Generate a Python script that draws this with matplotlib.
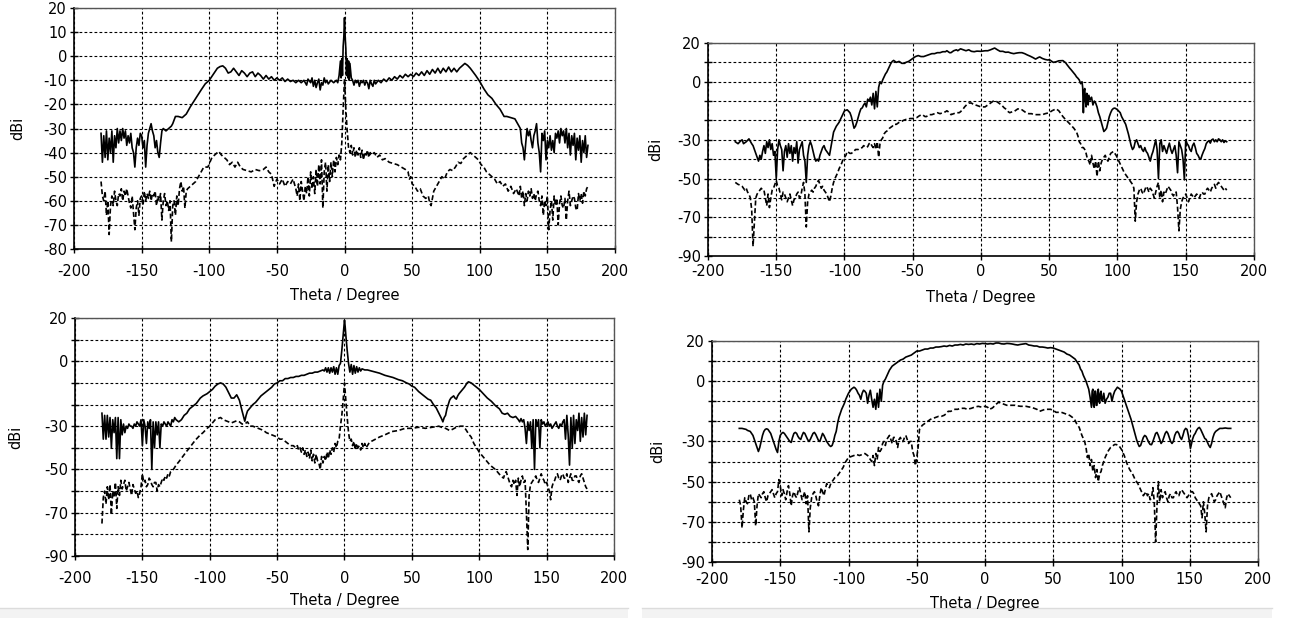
import matplotlib
matplotlib.use('Agg')
import matplotlib.pyplot as plt
from matplotlib.patches import Rectangle
import numpy as np

plt.rcParams['font.family'] = ['DejaVu Sans']

# --- top-left panel: (theta, dBi)
tl_solid = [(-180,-32),(-179,-44),(-178,-33),(-177,-42),(-176,-31),(-175,-43),(-174,-34),(-173,-40),(-172,-31),(-171,-44),(-170,-33),(-169,-38),(-168,-30),(-167,-36),(-166,-31),(-165,-35),(-164,-30),(-163,-34),(-162,-31),(-161,-37),(-160,-33),(-159,-36),(-158,-32),(-157,-38),(-156,-40),(-155,-46),(-154,-38),(-153,-34),(-152,-37),(-151,-32),(-150,-33),(-149,-38),(-148,-35),(-147,-46),(-146,-37),(-145,-32),(-144,-30),(-143,-28),(-142,-31),(-141,-33),(-140,-38),(-139,-35),(-138,-40),(-137,-42),(-136,-36),(-135,-31),(-134,-30),(-132,-31),(-130,-30),(-128,-29),(-127,-28),(-125,-25),(-123,-25),(-120,-25.5),(-117,-24),(-114,-21),(-110,-17.5),(-106,-14),(-103,-11.5),(-100,-10),(-97,-7.5),(-94,-5),(-92,-4.3),(-90,-4),(-88,-5),(-86,-7),(-84,-6.5),(-82,-5),(-80,-6.5),(-78,-8),(-76,-6),(-74,-7),(-72,-8.5),(-70,-7),(-68,-6.5),(-66,-8.5),(-64,-7),(-62,-8),(-60,-9.5),(-58,-8),(-56,-9.5),(-54,-8.5),(-52,-10),(-50,-9),(-48,-10),(-46,-9),(-44,-10.5),(-42,-9.5),(-40,-10.5),(-38,-10),(-36,-11),(-34,-10),(-32,-11),(-30,-10),(-28,-12),(-27,-9.5),(-25,-11),(-24,-9),(-23,-12.5),(-22,-10),(-21,-13),(-20,-11),(-19,-9.5),(-18,-14),(-17,-11),(-16,-12),(-15,-9),(-14,-11),(-13,-10),(-12,-11.5),(-10,-10),(-8,-11),(-6,-10),(-5,-11),(-4,-8),(-3,-2),(-2.5,-9),(-2,-1),(-1.5,-8),(-1,4),(-0.5,8),(0,16),(0.5,8),(1,3),(1.5,-8),(2,-1),(2.5,-9),(3,-2),(3.5,-10),(4,-3),(5,-9),(6,-10),(7,-12),(8,-10),(9,-11),(10,-10),(11,-12.5),(12,-10.5),(13,-11),(14,-10),(15,-12),(16,-10.5),(17,-11),(18,-13.5),(19,-10),(20,-11.5),(21,-12.5),(22,-10),(23,-11.5),(25,-10),(27,-11),(29,-9.5),(31,-10.5),(33,-9),(35,-10),(37,-8.5),(39,-9.5),(41,-8),(43,-9),(45,-7.5),(47,-8.5),(49,-7.5),(51,-8.5),(53,-7),(55,-8),(57,-6.5),(59,-8),(61,-6),(63,-7.5),(65,-5.5),(67,-7),(69,-5),(71,-7),(73,-5),(75,-6.5),(77,-4.5),(79,-6.5),(81,-5),(83,-6.5),(85,-5),(87,-4),(89,-3),(91,-3.8),(93,-5),(95,-6.5),(97,-8),(100,-10.5),(103,-13.5),(106,-16),(109,-17.5),(112,-20),(115,-22),(118,-25),(120,-25),(123,-25.5),(126,-26),(128,-28),(130,-30),(131,-36),(132,-38),(133,-43),(134,-36),(135,-30),(136,-33),(137,-31),(138,-35),(139,-38),(140,-33),(141,-31),(142,-28),(143,-36),(144,-40),(145,-48),(146,-32),(147,-35),(148,-31),(149,-43),(150,-35),(151,-38),(152,-33),(153,-39),(154,-35),(155,-40),(156,-32),(157,-34),(158,-31),(159,-36),(160,-30),(161,-33),(162,-31),(163,-36),(164,-30),(165,-38),(166,-32),(167,-41),(168,-33),(169,-37),(170,-32),(171,-43),(172,-34),(173,-39),(174,-33),(175,-44),(176,-35),(177,-40),(178,-33),(179,-42),(180,-37)]
tl_dash = [(-180,-52),(-179,-58),(-178,-60),(-177,-56),(-176,-66),(-175,-60),(-174,-74),(-173,-62),(-172,-58),(-171,-62),(-170,-56),(-169,-60),(-168,-62),(-167,-57),(-166,-58),(-165,-55),(-164,-60),(-163,-56),(-162,-58),(-161,-55),(-160,-58),(-159,-61),(-158,-63),(-157,-58),(-156,-65),(-155,-72),(-154,-63),(-153,-60),(-152,-66),(-151,-59),(-150,-58),(-149,-62),(-148,-56),(-147,-60),(-146,-57),(-145,-59),(-144,-56),(-143,-60),(-142,-57),(-141,-58),(-140,-56),(-139,-62),(-138,-58),(-137,-60),(-136,-57),(-135,-68),(-134,-60),(-133,-57),(-132,-62),(-131,-60),(-130,-64),(-129,-60),(-128,-77),(-127,-62),(-126,-60),(-125,-66),(-124,-58),(-123,-62),(-122,-55),(-121,-52),(-120,-56),(-119,-54),(-118,-63),(-117,-56),(-116,-55),(-114,-54),(-112,-53),(-110,-52),(-108,-50),(-106,-48),(-104,-46),(-101,-46),(-98,-42),(-95,-40.5),(-93,-39.5),(-91,-41),(-89,-42),(-87,-43),(-85,-45),(-83,-44),(-81,-46),(-79,-44),(-77,-46),(-75,-47),(-72,-47.5),(-69,-48),(-66,-47),(-63,-47.5),(-60,-47),(-58,-46),(-56,-48),(-54,-49),(-52,-54),(-50,-51),(-48,-53),(-46,-51),(-44,-54),(-42,-52),(-40,-53),(-38,-51),(-36,-55),(-35,-58),(-34,-53),(-33,-60),(-32,-52),(-31,-56),(-30,-60),(-29,-54),(-28,-57),(-27,-50),(-26,-58),(-25,-48),(-24,-55),(-23,-50),(-22,-57),(-21,-47),(-20,-54),(-19,-45),(-18,-53),(-17,-43),(-16,-63),(-15,-48),(-14,-44),(-13,-56),(-12,-45),(-11,-52),(-10,-44),(-9,-50),(-8,-43),(-7,-48),(-6,-42),(-5,-45),(-4,-41),(-3,-43),(-2,-36),(-1,-22),(0,-9.5),(1,-22),(2,-31),(3,-38),(4,-40),(5,-37),(6,-41),(7,-38),(8,-42),(9,-39),(10,-41),(11,-38),(12,-42),(13,-39),(14,-43),(15,-40),(16,-41),(17,-39),(18,-42),(19,-40),(20,-41),(22,-40),(24,-42),(26,-41),(28,-43),(30,-42.5),(33,-44),(36,-44.5),(39,-45),(42,-46),(45,-47),(47,-48),(48,-51),(49,-50),(50,-53),(52,-54),(54,-56),(56,-55),(58,-58),(60,-59),(62,-58),(63,-61),(64,-62),(65,-59),(66,-56),(68,-54),(70,-52),(72,-50),(74,-51),(76,-48),(78,-47),(80,-47.5),(82,-46),(84,-44),(86,-44.5),(88,-42.5),(90,-41.5),(92,-40.5),(93,-40),(95,-41),(97,-42),(99,-43),(101,-45),(103,-46),(105,-48),(107,-49),(109,-50),(111,-51),(113,-53),(115,-52),(117,-54),(119,-53),(121,-56),(123,-54),(125,-57),(127,-55),(129,-58),(130,-54),(131,-59),(132,-56),(133,-62),(134,-57),(135,-60),(136,-56),(137,-58),(138,-55),(139,-59),(140,-57),(141,-60),(142,-57),(143,-56),(144,-60),(145,-62),(146,-58),(147,-66),(148,-60),(149,-62),(150,-58),(151,-72),(152,-64),(153,-60),(154,-68),(155,-58),(156,-62),(157,-59),(158,-70),(159,-61),(160,-58),(161,-62),(162,-63),(163,-59),(164,-68),(165,-60),(166,-56),(167,-62),(168,-60),(169,-58),(170,-59),(171,-63),(172,-64),(173,-57),(174,-60),(175,-57),(176,-61),(177,-56),(178,-58),(179,-55),(180,-54)]

# --- top-right panel
tr_solid = [(-180,-31),(-178,-32),(-176,-30.5),(-175,-30),(-174,-32),(-172,-31),(-170,-29.5),(-168,-32),(-167,-33),(-165,-37),(-163,-41),(-162,-38),(-161,-40),(-160,-36),(-159,-33),(-158,-37),(-157,-31),(-156,-34),(-155,-30),(-154,-35),(-153,-32),(-152,-38),(-151,-36),(-150,-50),(-149,-35),(-148,-30),(-147,-33),(-146,-35),(-145,-46),(-144,-36),(-143,-33),(-142,-39),(-141,-32),(-140,-37),(-139,-33),(-138,-41),(-137,-34),(-136,-37),(-135,-31),(-134,-42),(-133,-35),(-132,-33),(-131,-31),(-130,-38),(-129,-41),(-128,-52),(-127,-38),(-126,-33),(-125,-31),(-124,-33),(-123,-36),(-122,-39),(-121,-41),(-120,-40),(-119,-41),(-118,-38),(-117,-36),(-116,-34),(-115,-33),(-114,-35),(-113,-36),(-112,-37),(-111,-38),(-110,-34),(-109,-30),(-108,-26),(-106,-23),(-104,-21),(-102,-18),(-100,-15),(-98,-14.5),(-96,-16),(-95,-18),(-94,-21),(-93,-24),(-92,-23),(-91,-21),(-90,-18.5),(-89,-16),(-88,-14),(-87,-13.5),(-86,-12),(-85,-11),(-84,-13),(-83,-9),(-82,-10),(-81,-8),(-80,-12),(-79,-6),(-78,-14),(-77,-5),(-76,-13),(-75,-3),(-74,0),(-73,-1),(-72,1),(-71,2.5),(-70,4),(-69,5),(-68,6.5),(-67,8),(-66,9.5),(-65,10.5),(-64,11),(-63,10.5),(-62,10),(-60,10.5),(-58,9.5),(-56,9.5),(-55,10),(-53,10.5),(-51,11.5),(-50,12),(-48,13),(-46,13.5),(-44,13),(-42,13),(-40,13.5),(-38,14),(-36,14.5),(-34,14.5),(-32,15),(-30,15),(-28,15.5),(-26,15.5),(-25,16),(-23,15),(-22,15),(-20,16),(-18,16.5),(-17,16),(-15,17),(-13,16.5),(-11,16),(-9,16.5),(-7,15.7),(-5,15.5),(-3,15.8),(0,15.7),(3,16),(5,16),(7,16.5),(10,17.4),(12,16.5),(14,15.7),(16,15.7),(18,15.2),(20,15.3),(22,14.8),(24,14.5),(26,14.8),(28,15),(30,15),(32,14.5),(34,13.8),(36,13.2),(38,12.5),(40,11.7),(42,12.5),(43,12.8),(45,12),(47,11.5),(49,11.2),(50,11.4),(52,10.5),(53,10),(55,10.3),(57,10.8),(60,10.9),(62,9.8),(63,8.8),(65,7),(66,6.2),(68,4.5),(69,3.6),(70,2.5),(71,1.8),(72,0.9),(73,-1),(74,0),(74.5,-3),(75,-16),(75.5,-5),(76,-3.5),(76.5,-10),(77,-13),(77.5,-6),(78,-8),(78.5,-12),(79,-7),(80,-9.5),(81,-8),(82,-12),(83,-10),(84,-11),(85,-13),(86,-16),(87,-18),(88,-20.5),(89,-23),(90,-25.7),(91,-25),(92,-24),(93,-21),(94,-18),(95,-16),(96,-14.5),(97,-13.8),(98,-13.6),(99,-14),(100,-14.5),(102,-16),(103,-18),(106,-22),(108,-27),(110,-33),(111,-35),(112,-34),(113,-31),(114,-30),(115,-32),(116,-34),(117,-33),(118,-35),(119,-36),(120,-34),(121,-36),(122,-37),(123,-39),(124,-41),(125,-38),(126,-36),(127,-33),(128,-30),(129,-35),(130,-50),(131,-32),(132,-30),(133,-36),(134,-33),(135,-35),(136,-37),(137,-34),(138,-31.7),(139,-35),(140,-37),(141,-35),(142,-33),(143,-38),(144,-47),(145,-31),(146,-33),(147,-35),(148,-40),(149,-50.7),(150,-30),(151,-32),(152,-33),(153,-35),(154,-36),(155,-33),(156,-31.7),(157,-34),(158,-37),(159,-38),(160,-39.5),(161,-40),(162,-37.8),(163,-36),(164,-34.5),(165,-32),(166,-31),(167,-30.5),(168,-31.7),(169,-30),(170,-29.6),(171,-31),(172,-30),(173,-31),(174,-29.5),(175,-30),(176,-31),(177,-30),(178,-31.4),(179,-30.5),(180,-31)]
tr_dash = [(-180,-52),(-178,-53),(-176,-53.5),(-175,-54),(-174,-55),(-173,-56),(-172,-55),(-171,-57),(-170,-58),(-169,-60),(-168,-66),(-167,-85),(-166,-72),(-165,-60),(-164,-58),(-163,-57),(-162,-56),(-161,-55),(-160,-56),(-159,-56),(-158,-60),(-157,-64),(-156,-58),(-155,-65),(-154,-60),(-153,-56),(-152,-55),(-151,-53),(-150,-51),(-149,-54),(-148,-55),(-147,-58),(-146,-61),(-145,-57),(-144,-58),(-143,-60),(-142,-62),(-141,-60),(-140,-58),(-139,-61),(-138,-64),(-137,-61),(-136,-60),(-135,-58),(-134,-57),(-133,-60),(-132,-59),(-131,-55),(-130,-52),(-129,-58),(-128,-75),(-127,-62),(-126,-58),(-125,-57),(-124,-56),(-123,-57),(-122,-55),(-121,-54),(-120,-52),(-119,-51),(-118,-53),(-117,-55),(-116,-54),(-115,-56),(-114,-57),(-113,-58),(-112,-60),(-111,-62),(-110,-59),(-109,-55),(-108,-52),(-107,-50),(-105,-47),(-104,-45),(-102,-42),(-101,-40),(-99,-38),(-98,-36),(-96,-37),(-95,-37),(-93,-36),(-92,-35),(-90,-35),(-89,-34.5),(-87,-34),(-86,-33),(-84,-34),(-83,-33.5),(-82,-32),(-81,-31.5),(-80,-33),(-79,-34),(-78,-32),(-77,-35),(-76,-31),(-75,-39),(-74,-32),(-73,-30),(-72,-29),(-71,-27),(-70,-26),(-68,-25),(-67,-24),(-65,-23),(-64,-22),(-62,-22),(-60,-21),(-58,-20.5),(-57,-20),(-55,-19.5),(-54,-19.5),(-52,-19),(-50,-19),(-48,-18.5),(-47,-18.5),(-45,-17.5),(-43,-17),(-41,-18),(-40,-18),(-38,-17),(-36,-17),(-34,-16.5),(-32,-16),(-30,-16.5),(-28,-16),(-26,-15.5),(-25,-15),(-23,-16),(-22,-17),(-20,-16.5),(-18,-16),(-16,-16),(-15,-15.5),(-13,-14),(-12,-13),(-10,-11.5),(-9,-11),(-7,-11),(-5,-12),(-4,-12),(-2,-12.5),(0,-13),(2,-13),(3,-13),(5,-12),(6,-11.5),(8,-10.5),(9,-10),(11,-10),(12,-10.5),(14,-11.5),(15,-12),(17,-13.5),(18,-14),(20,-15.5),(21,-16),(23,-15.5),(24,-15.5),(26,-14.5),(27,-14),(29,-14.5),(30,-14.5),(32,-15.5),(33,-16),(35,-16.5),(37,-16.5),(39,-17),(40,-17),(42,-17),(45,-17),(47,-16.5),(50,-16),(52,-15),(55,-14),(57,-15),(58,-16),(60,-18),(62,-19.6),(64,-21),(66,-22.5),(68,-24),(70,-26),(71,-28),(72,-31),(73,-32),(74,-34),(75,-34),(76,-35),(77,-37),(78,-40),(79,-41),(80,-43),(81,-38),(82,-42),(83,-45),(84,-41),(85,-49),(86,-41),(87,-46),(88,-42),(89,-40),(90,-39),(91,-38),(92,-40),(93,-41),(94,-39),(95,-37),(96,-36.5),(97,-36),(98,-37),(99,-38),(100,-39.5),(101,-41),(102,-42.5),(103,-44),(104,-45.5),(105,-47),(106,-48),(107,-49),(108,-50),(109,-51),(110,-52),(111,-53),(112,-55),(113,-72),(114,-62),(115,-58),(116,-56),(117,-55),(118,-57),(119,-58),(120,-56),(121,-54),(122,-55),(123,-57),(124,-55),(125,-56),(126,-58),(127,-60),(128,-57),(129,-54),(130,-52),(131,-60),(132,-56),(133,-62),(134,-57),(135,-58),(136,-56),(137,-54),(138,-55),(139,-56),(140,-58),(141,-59),(142,-57),(143,-57),(144,-65),(145,-77),(146,-66),(147,-62),(148,-60),(149,-59),(150,-58),(151,-60),(152,-62),(153,-60),(154,-58),(155,-59),(156,-60),(157,-59),(158,-58),(159,-59),(160,-60),(161,-58),(162,-57),(163,-58),(164,-58),(165,-56),(166,-55),(167,-56),(168,-57),(169,-55),(170,-54),(171,-53),(172,-55),(173,-53),(174,-52),(175,-53),(176,-54),(177,-55),(178,-56),(179,-55),(180,-56)]

# --- bottom-left panel
bl_solid = [(-180,-24),(-179,-36),(-178,-25),(-177,-36),(-176,-25),(-175,-35),(-174,-26),(-173,-40),(-172,-27),(-171,-33),(-170,-26),(-169,-45),(-168,-26),(-167,-45),(-166,-27),(-165,-34),(-164,-29),(-163,-33),(-162,-30),(-161,-31),(-160,-29),(-159,-30),(-158,-30),(-157,-31),(-156,-29),(-155,-30),(-154,-28),(-153,-29),(-152,-30),(-151,-27),(-150,-39),(-149,-27),(-148,-30),(-147,-38),(-146,-28),(-145,-31),(-144,-27),(-143,-50),(-142,-28),(-141,-40),(-140,-28),(-139,-34),(-138,-28),(-137,-40),(-136,-29),(-135,-30),(-134,-28),(-133,-29),(-132,-30),(-131,-28),(-130,-29),(-129,-30),(-128,-27),(-127,-28),(-126,-26),(-125,-27),(-123,-28),(-121,-27),(-119,-25),(-117,-24),(-115,-22),(-113,-21),(-110,-19.5),(-107,-17),(-105,-16),(-102,-15),(-100,-14),(-98,-13),(-96,-11.5),(-94,-10.5),(-92,-10),(-90,-10.5),(-88,-12),(-86,-14.5),(-84,-17),(-82,-17),(-80,-15.5),(-78,-18),(-76,-23),(-74,-27.7),(-73,-25),(-72,-23),(-70,-21.5),(-68,-20),(-66,-19),(-64,-17.5),(-62,-16),(-60,-15),(-58,-14),(-56,-13),(-54,-12),(-52,-10.5),(-50,-10),(-48,-9),(-46,-9),(-44,-8),(-42,-8),(-40,-7.5),(-38,-7.5),(-36,-7),(-34,-7),(-32,-6.5),(-30,-6.5),(-28,-6),(-26,-5.5),(-24,-5.5),(-22,-5),(-20,-5),(-18,-4.5),(-16,-4),(-15,-4.5),(-14,-3),(-13,-5),(-12,-3),(-11,-5.5),(-10,-3),(-9,-5),(-8,-2.5),(-7,-6),(-6,-3),(-5,-6),(-4,-2),(-3,-1),(-2,5),(-1,12),(-0.5,16),(0,19),(0.5,16),(1,12),(2,5),(3,-1),(4,-5),(5,-1.5),(6,-6),(7,-2),(8,-5.5),(9,-2.5),(10,-5),(11,-3),(12,-4.5),(13,-3.5),(15,-4),(17,-4),(20,-4.5),(23,-5),(26,-5.5),(30,-6.5),(33,-7),(36,-7.5),(40,-8.5),(43,-9),(46,-10),(48,-10.5),(50,-11.5),(52,-12),(55,-14),(58,-15.5),(60,-16.5),(62,-17.5),(64,-18),(66,-20),(68,-21.5),(70,-24),(72,-26.5),(73,-28),(74,-26),(75,-25),(76,-22),(77,-20),(78,-18),(79,-17),(80,-16.5),(81,-16),(82,-17),(83,-17.5),(84,-16),(85,-15),(87,-13.5),(89,-12),(91,-10),(92,-9.5),(94,-10),(96,-11),(98,-12),(100,-13),(103,-15),(106,-17),(109,-18.5),(112,-20.5),(115,-22),(117,-24),(119,-24.5),(121,-24),(123,-25.5),(125,-26),(127,-25.5),(129,-27),(130,-28),(131,-26.5),(132,-28),(133,-27),(134,-31),(135,-38),(136,-28),(137,-32),(138,-28),(139,-40),(140,-27),(141,-50),(142,-27),(143,-30),(144,-27),(145,-40),(146,-27),(147,-29),(148,-28),(149,-30),(150,-29),(151,-28),(152,-30),(153,-29),(154,-31),(155,-30),(156,-29),(157,-28),(158,-30),(159,-31),(160,-29),(161,-30),(162,-28),(163,-27),(164,-36),(165,-25),(166,-34),(167,-48),(168,-26),(169,-40),(170,-25),(171,-38),(172,-27),(173,-32),(174,-24),(175,-37),(176,-26),(177,-35),(178,-24),(179,-34),(180,-25)]
bl_dash = [(-180,-75),(-179,-63),(-178,-60),(-177,-66),(-176,-58),(-175,-64),(-174,-57),(-173,-71),(-172,-60),(-171,-63),(-170,-56),(-169,-68),(-168,-58),(-167,-62),(-166,-55),(-165,-59),(-164,-57),(-163,-55),(-162,-60),(-161,-58),(-160,-56),(-159,-59),(-158,-62),(-157,-57),(-156,-59),(-155,-61),(-154,-60),(-153,-63),(-152,-61),(-151,-58),(-150,-52),(-149,-56),(-148,-55),(-147,-58),(-146,-57),(-145,-54),(-144,-55),(-143,-57),(-142,-58),(-141,-56),(-140,-56),(-139,-60),(-138,-57),(-137,-58),(-136,-56),(-135,-54),(-134,-55),(-133,-53),(-132,-54),(-131,-52),(-130,-53),(-129,-51),(-127,-50),(-125,-48),(-123,-46.5),(-120,-44),(-117,-41.5),(-115,-40),(-112,-37.5),(-110,-36),(-107,-34),(-105,-33),(-102,-31),(-100,-30),(-98,-28.5),(-96,-27),(-94,-26.5),(-92,-26),(-90,-27),(-88,-27.5),(-86,-28),(-84,-28.5),(-82,-28),(-80,-27.5),(-78,-28),(-76,-29),(-74,-29),(-72,-28),(-70,-30),(-68,-30),(-66,-30.5),(-64,-31),(-62,-31.5),(-60,-32),(-58,-33),(-56,-33.5),(-54,-34),(-52,-34.5),(-50,-35),(-48,-36),(-46,-36),(-44,-37),(-42,-38),(-40,-39),(-38,-39),(-36,-40),(-35,-39),(-34,-41),(-33,-40),(-32,-42),(-31,-40),(-30,-43),(-29,-41),(-28,-44),(-27,-42),(-26,-45),(-25,-41),(-24,-46),(-23,-43),(-22,-47),(-21,-43),(-20,-46),(-19,-47),(-18,-50),(-17,-44),(-16,-47),(-15,-44),(-14,-46),(-13,-42),(-12,-45),(-11,-41),(-10,-43),(-9,-40),(-8,-42),(-7,-38),(-6,-40),(-5,-37),(-4,-36),(-3,-30),(-2,-25),(-1,-18),(0,-10),(1,-18),(2,-26),(3,-33),(4,-37),(5,-36),(6,-39),(7,-37),(8,-41),(9,-38),(10,-40),(11,-39),(12,-41),(13,-38),(14,-40),(15,-38),(16,-40),(18,-38),(20,-37),(23,-36),(26,-35),(30,-34),(35,-32.5),(40,-32),(45,-31),(50,-31),(55,-30.5),(60,-31),(65,-30.5),(70,-30),(72,-30.5),(75,-31),(78,-32),(80,-31.5),(83,-30.5),(86,-30),(88,-30),(90,-31.5),(92,-33.5),(94,-35),(96,-38),(98,-40),(100,-42),(102,-43.5),(104,-45),(106,-46.5),(108,-48),(110,-49),(112,-50),(114,-51.5),(116,-53),(118,-54),(119,-52),(120,-51),(121,-53),(122,-55),(123,-57),(124,-58),(125,-55),(126,-57),(127,-55),(128,-62),(129,-54),(130,-58),(131,-55),(132,-53),(133,-56),(134,-55),(135,-70),(136,-87),(137,-62),(138,-57),(139,-56),(140,-55),(141,-54),(142,-53),(143,-55),(144,-56),(145,-54),(146,-52),(147,-54),(148,-55),(149,-57),(150,-56),(151,-58),(152,-60),(153,-64),(154,-58),(155,-56),(156,-55),(157,-53),(158,-52),(159,-54),(160,-55),(161,-53),(162,-52),(163,-54),(164,-54),(165,-52),(166,-56),(167,-54),(168,-52),(169,-55),(170,-55),(171,-53),(172,-53),(173,-55),(174,-56),(175,-53),(176,-52),(177,-54),(178,-56),(179,-58),(180,-59)]

# --- bottom-right panel
br_solid = [(-180,-23.5),(-178,-23.5),(-176,-23.8),(-175,-24),(-174,-24.5),(-172,-25),(-170,-27),(-168,-31),(-167,-33),(-166,-35),(-165,-33),(-164,-30),(-163,-27),(-162,-25),(-161,-24),(-160,-23.7),(-159,-24),(-158,-25),(-157,-26),(-156,-28),(-154,-32),(-153,-34),(-152,-35.5),(-151,-30),(-150,-27),(-149,-26),(-148,-25.5),(-147,-26),(-146,-27),(-145,-28),(-144,-29),(-143,-30),(-142,-30.5),(-141,-28),(-140,-26),(-139,-25.5),(-138,-26),(-137,-27.5),(-136,-28.5),(-135,-29),(-134,-27),(-133,-25.5),(-132,-26),(-131,-27.5),(-130,-29),(-129,-30),(-128,-29),(-127,-27.5),(-126,-26),(-125,-25.5),(-124,-26.5),(-123,-28),(-122,-29.5),(-121,-30),(-120,-28),(-119,-26),(-118,-27),(-117,-28.5),(-116,-30),(-115,-31),(-114,-32),(-113,-32.5),(-112,-32),(-111,-30),(-110,-27),(-109,-25),(-108,-21),(-107,-18),(-106,-16),(-105,-14),(-103,-11),(-102,-9),(-101,-7.5),(-100,-6),(-99,-5),(-98,-4),(-97,-3.5),(-96,-3),(-95,-3.5),(-94,-4.5),(-93,-6),(-92,-7),(-91,-9),(-90,-6),(-89,-4.5),(-88,-5),(-87,-6),(-86,-11),(-85,-7),(-84,-4.5),(-83,-9),(-82,-13),(-81,-9),(-80,-14),(-79,-6),(-78,-13),(-77,-4),(-76,-10),(-75,-2),(-74,0),(-73,1),(-72,2.5),(-71,4),(-70,5.5),(-69,6.5),(-68,7.5),(-66,8.5),(-64,9.5),(-62,10.5),(-60,11),(-58,12),(-56,12.5),(-54,13),(-52,14),(-50,15),(-48,15),(-46,15.5),(-44,16),(-42,16),(-40,16.5),(-38,16.5),(-36,17),(-34,17),(-32,17.2),(-30,17.5),(-28,17.3),(-26,17.8),(-24,17.5),(-22,18),(-20,18),(-18,18.3),(-16,18),(-14,18.5),(-12,18.3),(-10,18.5),(-8,18.2),(-6,18.7),(-4,18.5),(-2,18.8),(0,18.7),(2,18.5),(4,18.7),(6,18.5),(8,19),(10,19),(12,18.6),(14,18.5),(16,18.8),(18,18.7),(20,18.5),(22,18.2),(24,18),(26,18.3),(28,18.5),(30,18.7),(32,18),(34,17.8),(36,17.5),(38,17.5),(40,17),(42,17),(44,16.8),(46,16.5),(48,16.7),(50,16.5),(52,16),(54,15.5),(56,15),(58,14.5),(60,13.5),(62,13),(64,12),(66,11),(67,10),(68,9),(69,8),(70,6),(71,5),(72,3),(73,1.5),(74,0),(75,-2),(76,-4),(77,-8),(78,-13),(78.5,-5),(79,-4),(79.5,-12),(80,-13),(80.5,-5),(81,-5),(81.5,-12),(82,-12),(82.5,-6),(83,-4),(83.5,-10),(84,-11),(84.5,-6),(85,-5),(85.5,-9),(86,-10),(87,-6),(88,-11),(89,-9),(90,-8),(91,-6),(92,-6),(93,-10),(94,-7),(95,-5),(96,-4),(97,-3),(98,-3.5),(99,-4),(100,-5),(101,-7),(102,-9),(103,-11),(104,-13),(105,-15),(106,-17),(107,-19),(108,-21.5),(109,-24),(110,-26.5),(111,-29),(112,-31),(113,-32.5),(114,-32),(115,-30),(116,-28),(117,-27),(118,-27.5),(119,-29),(120,-30.5),(121,-31.5),(122,-31.6),(123,-30),(124,-28),(125,-26),(126,-25.5),(127,-27),(128,-29),(129,-31),(130,-30),(131,-28),(132,-26),(133,-25),(134,-26),(135,-28),(136,-30),(137,-31),(138,-30),(139,-27),(140,-25.5),(141,-25),(142,-26),(143,-28),(144,-29),(145,-27),(146,-24.5),(147,-23.5),(148,-24),(149,-27),(150,-31),(150.5,-33.5),(151,-32),(152,-29),(153,-27),(154,-26),(155,-24.5),(156,-23.5),(157,-23),(158,-24),(159,-25.5),(160,-27),(161,-28.5),(162,-29),(163,-30.5),(164,-32),(165,-33),(166,-31),(167,-28),(168,-26),(169,-25),(170,-24.5),(172,-23.5),(174,-23.5),(176,-23.3),(178,-23.5),(180,-23.5)]
br_dash = [(-180,-59),(-179,-62),(-178,-73),(-177,-64),(-176,-58),(-175,-60),(-174,-61),(-173,-57),(-172,-56),(-171,-59),(-170,-58),(-169,-60),(-168,-72),(-167,-62),(-166,-56),(-165,-57),(-164,-58),(-163,-56),(-162,-55),(-161,-58),(-160,-60),(-159,-57),(-158,-56),(-157,-55),(-156,-54),(-155,-56),(-154,-58),(-153,-56),(-152,-55),(-151,-49),(-150,-52),(-149,-57),(-148,-54),(-147,-56),(-146,-59),(-145,-55),(-144,-52),(-143,-56),(-142,-62),(-141,-57),(-140,-55),(-139,-57),(-138,-58),(-137,-55),(-136,-53),(-135,-56),(-134,-59),(-133,-57),(-132,-55),(-131,-61),(-130,-57),(-129,-75),(-128,-63),(-127,-58),(-126,-56),(-125,-55),(-124,-57),(-123,-60),(-122,-62),(-121,-57),(-120,-53),(-119,-55),(-118,-57),(-117,-54),(-116,-51),(-115,-52),(-114,-53),(-113,-51),(-112,-50),(-110,-48),(-108,-47),(-106,-45),(-104,-43),(-102,-40),(-100,-38),(-98,-37.5),(-96,-37),(-94,-36.5),(-92,-37),(-90,-36.5),(-88,-36),(-86,-37),(-85,-38),(-84,-39),(-83,-40),(-82,-37),(-81,-42),(-80,-36),(-79,-39),(-78,-33),(-77,-35),(-76,-34),(-75,-31),(-74,-30),(-73,-32),(-72,-29),(-71,-28),(-70,-27),(-69,-29),(-68,-31),(-67,-28),(-66,-28),(-65,-30),(-64,-33),(-63,-29),(-62,-28),(-61,-30),(-60,-30),(-59,-28),(-58,-27),(-57,-29),(-56,-31),(-55,-30),(-54,-30),(-53,-35),(-52,-37),(-51,-42),(-50,-38),(-49,-33),(-48,-24),(-47,-23),(-46,-22),(-45,-21.5),(-44,-21),(-42,-20),(-40,-19),(-38,-18.5),(-36,-18),(-34,-17.5),(-32,-17.5),(-30,-17),(-28,-16),(-27,-15),(-25,-15),(-24,-14.5),(-22,-14),(-20,-14),(-18,-13.5),(-15,-13.5),(-13,-14),(-10,-13.5),(-8,-13),(-5,-12.5),(-2,-13),(0,-12.5),(2,-13),(3,-14),(5,-13.5),(6,-13),(8,-11.5),(10,-10.5),(12,-11),(14,-11.5),(16,-12),(18,-12),(20,-12),(22,-12),(24,-12.3),(26,-12.5),(28,-12.5),(30,-12.5),(32,-12.8),(34,-13),(36,-13.5),(38,-14),(40,-15),(42,-14.5),(44,-14),(46,-14),(48,-14),(50,-14.5),(52,-15.5),(54,-15.5),(56,-15.5),(58,-16),(60,-16.5),(62,-17),(64,-18),(66,-19.5),(67,-21),(68,-22),(69,-23),(70,-25),(71,-27),(72,-28.5),(73,-30),(74,-33),(75,-38),(76,-36),(77,-42),(78,-39),(79,-45),(80,-42),(81,-48),(82,-44),(83,-50),(84,-46),(85,-45),(86,-42),(87,-40),(88,-38),(89,-36.5),(90,-35),(91,-34),(92,-33),(93,-32.5),(94,-32),(95,-31.5),(96,-31.5),(97,-31.8),(98,-32),(99,-33),(100,-34),(101,-35.5),(102,-37),(103,-39),(104,-41),(105,-42.5),(106,-44),(107,-45),(108,-46),(109,-47.5),(110,-49),(111,-50),(112,-51),(113,-52.5),(114,-54),(115,-55.5),(116,-57),(117,-56),(118,-55),(119,-57),(120,-56),(121,-59),(122,-58),(123,-53),(124,-60),(125,-80),(126,-62),(127,-50),(128,-60),(129,-54),(130,-58),(131,-56),(132,-55),(133,-58),(134,-60),(135,-57),(136,-56),(137,-58),(138,-58),(139,-56),(140,-55),(141,-57),(142,-57),(143,-55),(144,-54),(145,-55),(146,-56),(147,-57),(148,-58),(149,-57),(150,-56),(151,-55),(152,-55),(153,-56),(154,-58),(155,-59),(156,-60),(157,-61),(158,-62),(159,-68),(160,-60),(161,-66),(162,-75),(163,-62),(164,-58),(165,-57),(166,-56),(167,-58),(168,-60),(169,-59),(170,-57),(171,-56),(172,-55),(173,-57),(174,-59),(175,-61),(176,-63),(177,-58),(178,-56),(179,-57),(180,-58)]

# axis tick settings
tl_yticks = list(range(-80, 21, 10))
tl_ylabels = [str(v) for v in tl_yticks]
other_yticks = list(range(-90, 21, 10))
other_ylabels = [str(v) if v in (20, 0, -30, -50, -70, -90) else '' for v in other_yticks]
xticks = list(range(-200, 201, 50))

FS = 10.5

fig = plt.figure(figsize=(12.89, 6.18), dpi=100, facecolor='white')

W, H = 1289, 618
def add_panel(left, top, right, bottom):
    return fig.add_axes([left / W, 1 - bottom / H, (right - left) / W, (bottom - top) / H])

# faint strip along the bottom edge of the screenshot (kept behind everything)
for x0, x1 in [(0, 628), (642, 1272)]:
    fig.add_artist(Rectangle((x0 / W, 0), (x1 - x0) / W, 10 / H, transform=fig.transFigure,
                             facecolor='#f3f3f3', edgecolor='none', zorder=-10))
    fig.add_artist(plt.Line2D([x0 / W, x1 / W], [10 / H, 10 / H], transform=fig.transFigure,
                              color='#dcdcdc', lw=1, zorder=-10))

# (axes box, solid, dashed, yticks, ylabels, xtick pad, xlabel pad, ylabel pad)
panels = [
    ((74, 8, 615, 249), tl_solid, tl_dash, tl_yticks, tl_ylabels, 7.5, 6.5, 13),
    ((708, 43, 1254, 256), tr_solid, tr_dash, other_yticks, other_ylabels, 2.5, 8, 10),
    ((75, 318, 614, 556), bl_solid, bl_dash, other_yticks, other_ylabels, 7.5, 5.5, 15),
    ((712, 341, 1258, 562), br_solid, br_dash, other_yticks, other_ylabels, 4, 6.5, 11.5),
]

for box, solid, dash, yt, yl, xpad, xlpad, ylpad in panels:
    ax = add_panel(*box)
    s = np.array(solid)
    d = np.array(dash)
    ax.plot(d[:, 0], d[:, 1], color='black', lw=1.2, linestyle=(0, (3, 1.6)), zorder=3)
    ax.plot(s[:, 0], s[:, 1], color='black', lw=1.2, zorder=4)
    ax.set_xlim(-200, 200)
    ax.set_ylim(yt[0], yt[-1])
    ax.set_xticks(xticks)
    ax.set_xticklabels([str(v) for v in xticks])
    ax.set_yticks(yt)
    ax.set_yticklabels(yl)
    ax.grid(True, color='black', linestyle=(0, (2.5, 2)), linewidth=0.8)
    ax.set_axisbelow(True)
    ax.tick_params(direction='inout', length=6, width=1, labelsize=FS)
    ax.tick_params(axis='x', pad=xpad)
    ax.tick_params(axis='y', pad=2)
    for side in ('left', 'bottom'):
        ax.spines[side].set_color('black')
        ax.spines[side].set_linewidth(1.2)
    for side in ('top', 'right'):
        ax.spines[side].set_color('#555555')
        ax.spines[side].set_linewidth(1.0)
    ax.set_xlabel('Theta / Degree', fontsize=FS, labelpad=xlpad)
    ax.set_ylabel('dBi', fontsize=FS, labelpad=ylpad)

plt.savefig('out.png', dpi=100, facecolor='white')
